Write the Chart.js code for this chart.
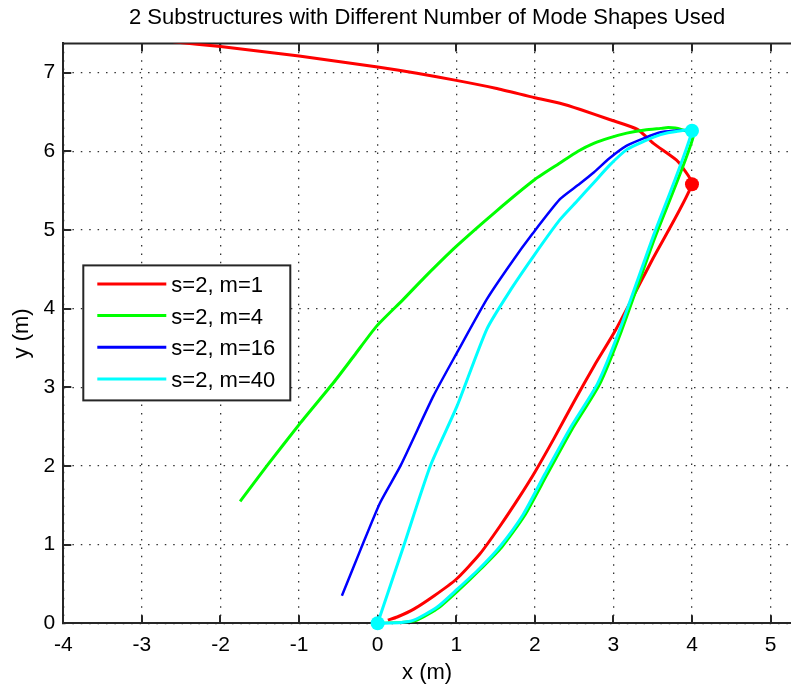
<!DOCTYPE html>
<html>
<head>
<meta charset="utf-8">
<title>2 Substructures with Different Number of Mode Shapes Used</title>
<script src="https://cdn.jsdelivr.net/npm/chart.js@4.4.1/dist/chart.umd.min.js"></script>
<style>
  html, body { margin: 0; padding: 0; background: #fff; overflow: hidden; }
  #wrap { width: 791px; height: 690px; position: relative; }
</style>
</head>
<body>
<div id="wrap"><canvas id="plot" width="791" height="690"></canvas></div>
<script>
// Tip trajectories (x, y in metres) for two substructures, by number of mode shapes m.
const X_TICKS = [-4, -3, -2, -1, 0, 1, 2, 3, 4, 5];
const Y_TICKS = [0, 1, 2, 3, 4, 5, 6, 7];
const SERIES_LABELS = ['s=2, m=1', 's=2, m=4', 's=2, m=16', 's=2, m=40'];

// m = 1
const M1_X = [0.13, 0.25, 0.46, 0.72, 1.00, 1.30, 1.56, 1.80, 2.00, 2.25, 2.50, 2.76, 3.03, 3.50, 4.00, 3.89, 3.80, 3.51, 3.30, 2.96, 2.58, 2.32, 2.00, 1.50, 1.00, 0.50, 0.00, -1.00, -2.00, -2.60];
const M1_Y = [0.04, 0.08, 0.18, 0.35, 0.56, 0.88, 1.24, 1.60, 1.92, 2.36, 2.82, 3.28, 3.73, 4.63, 5.58, 5.78, 5.89, 6.10, 6.28, 6.40, 6.53, 6.61, 6.68, 6.80, 6.90, 6.99, 7.07, 7.21, 7.33, 7.39];

// m = 4
const M4_X = [0.00, 0.30, 0.50, 0.78, 1.03, 1.32, 1.58, 1.87, 2.15, 2.47, 2.82, 3.10, 3.52, 4.02, 3.85, 3.70, 3.60, 3.40, 3.17, 2.95, 2.75, 2.55, 2.32, 2.00, 1.50, 1.00, 0.60, 0.33, -0.01, -0.30, -0.56, -0.98, -1.41, -1.75];
const M4_Y = [0.00, 0.01, 0.04, 0.20, 0.42, 0.70, 0.97, 1.37, 1.88, 2.46, 3.03, 3.71, 4.88, 6.20, 6.28, 6.30, 6.29, 6.27, 6.23, 6.17, 6.10, 6.00, 5.85, 5.64, 5.23, 4.79, 4.40, 4.12, 3.78, 3.40, 3.06, 2.55, 2.00, 1.55];

// m = 16
const M16_X = [4.00, 3.94, 3.78, 3.60, 3.40, 3.17, 2.95, 2.75, 2.55, 2.32, 1.97, 1.70, 1.39, 1.01, 0.71, 0.29, 0.03, -0.22, -0.455];
const M16_Y = [6.27, 6.27, 6.26, 6.24, 6.17, 6.07, 5.91, 5.73, 5.57, 5.39, 4.95, 4.58, 4.12, 3.44, 2.89, 2.00, 1.53, 0.93, 0.35];

// m = 40
const M40_X = [0.00, 0.30, 0.46, 0.75, 1.01, 1.30, 1.56, 1.85, 2.13, 2.45, 2.80, 3.08, 3.50, 4.00, 3.80, 3.60, 3.40, 3.17, 2.95, 2.75, 2.55, 2.32, 2.00, 1.70, 1.39, 1.01, 0.67, 0.33, 0.00];
const M40_Y = [0.00, 0.01, 0.04, 0.20, 0.43, 0.70, 0.98, 1.38, 1.90, 2.48, 3.05, 3.73, 4.90, 6.26, 6.25, 6.21, 6.13, 6.02, 5.82, 5.60, 5.38, 5.13, 4.69, 4.25, 3.74, 2.76, 2.00, 0.98, 0.00];

const FONT = '"Liberation Sans", Arial, Helvetica, sans-serif';
const INK = '#262626';
const GRID = '#333333';

function toPoints(xs, ys) {
  return xs.map((x, i) => ({ x: x, y: ys[i] }));
}
// radius per point: zero except at the marked samples
function markerRadii(n, idx, r) {
  const a = new Array(n).fill(0);
  idx.forEach(i => { a[i] = r; });
  return a;
}
function series(label, xs, ys, color, width, marks, order, clip) {
  return {
    label: label,
    data: toPoints(xs, ys),
    showLine: true,
    borderColor: color,
    backgroundColor: color,
    pointBackgroundColor: color,
    pointBorderColor: color,
    borderWidth: width,
    pointRadius: markerRadii(xs.length, marks, 7),
    pointHoverRadius: markerRadii(xs.length, marks, 7),
    pointBorderWidth: 0,
    tension: 0.2,
    order: order,
    clip: clip
  };
}

// frame: top edge plus inward tick marks, under the curves
const framePlugin = {
  id: 'frame',
  beforeDatasetsDraw(chart) {
    const { ctx, chartArea: { left, right, top, bottom }, scales: { x, y } } = chart;
    const TL = 8;
    ctx.save();
    ctx.strokeStyle = INK;
    ctx.lineWidth = 2;
    ctx.beginPath();
    ctx.moveTo(left - 1, top);
    ctx.lineTo(right, top);
    ctx.stroke();
    ctx.beginPath();
    X_TICKS.forEach(v => {
      const px = Math.round(x.getPixelForValue(v));
      ctx.moveTo(px, bottom);
      ctx.lineTo(px, bottom - TL);
      ctx.moveTo(px, top);
      ctx.lineTo(px, top + TL);
    });
    Y_TICKS.forEach(v => {
      const py = Math.round(y.getPixelForValue(v));
      ctx.moveTo(left, py);
      ctx.lineTo(left + TL, py);
    });
    ctx.stroke();
    ctx.restore();
  }
};

// boxed legend sitting inside the axes
const insetLegend = {
  id: 'insetLegend',
  afterDatasetsDraw(chart) {
    const { ctx, chartArea } = chart;
    const bx = chartArea.left + 20, by = chartArea.top + 222;
    const bw = 207, bh = 135;
    ctx.save();
    ctx.fillStyle = '#fff';
    ctx.fillRect(bx, by, bw, bh);
    ctx.strokeStyle = INK;
    ctx.lineWidth = 2;
    ctx.strokeRect(bx, by, bw, bh);
    ctx.font = '22px ' + FONT;
    ctx.textBaseline = 'middle';
    ctx.textAlign = 'left';
    chart.data.datasets.forEach((ds, i) => {
      const ly = by + 18.5 + i * 31.7;
      ctx.strokeStyle = ds.borderColor;
      ctx.lineWidth = 3;
      ctx.beginPath();
      ctx.moveTo(bx + 14, ly);
      ctx.lineTo(bx + 83, ly);
      ctx.stroke();
      ctx.fillStyle = '#000';
      ctx.fillText(ds.label, bx + 88, ly + 2);
    });
    ctx.restore();
  }
};

const tickFont = { family: FONT, size: 21 };
const titleFont = { family: FONT, size: 22 };

new Chart(document.getElementById('plot'), {
  type: 'scatter',
  data: {
    datasets: [
      series(SERIES_LABELS[0], M1_X, M1_Y, '#ff0000', 3, [14], 4, 0),
      series(SERIES_LABELS[1], M4_X, M4_Y, '#00ff00', 3, [], 3, 0),
      series(SERIES_LABELS[2], M16_X, M16_Y, '#0000ff', 2.5, [], 2, 0),
      series(SERIES_LABELS[3], M40_X, M40_Y, '#00ffff', 3, [0, 13], 1, { left: 10, top: 0, right: 10, bottom: 10 })
    ]
  },
  options: {
    responsive: false,
    devicePixelRatio: 1,
    animation: false,
    events: [],
    layout: { autoPadding: false, padding: 0 },
    plugins: {
      legend: { display: false },
      tooltip: { enabled: false },
      title: {
        display: true,
        text: '2 Substructures with Different Number of Mode Shapes Used',
        color: '#000',
        font: { family: FONT, size: 22, weight: 'normal' },
        padding: { top: 5, bottom: 12 },
        fullSize: false
      }
    },
    scales: {
      x: {
        type: 'linear',
        min: -4,
        max: 5.26,
        afterBuildTicks: s => { s.ticks = X_TICKS.map(v => ({ value: v })); },
        afterFit: s => { s.height = 66.7; s.paddingLeft = 0; s.paddingRight = 0; },
        ticks: { color: '#000', font: tickFont, padding: 9, maxRotation: 0, autoSkip: false },
        grid: { color: GRID, lineWidth: 1.3, drawTicks: false },
        border: { display: true, color: INK, width: 2, dash: [1.5, 6.9] },
        title: { display: true, text: 'x (m)', color: '#000', font: titleFont, padding: { top: 0, bottom: 4 } }
      },
      y: {
        type: 'linear',
        min: 0,
        max: 7.37,
        afterBuildTicks: s => { s.ticks = Y_TICKS.map(v => ({ value: v })); },
        afterFit: s => { s.width = 63.3; s.paddingTop = 0; s.paddingBottom = 0; },
        ticks: { color: '#000', font: tickFont, padding: 8 },
        grid: { color: GRID, lineWidth: 1.3, drawTicks: false },
        border: { display: true, color: INK, width: 2, dash: [1.5, 6.9] },
        title: { display: true, text: 'y (m)', color: '#000', font: titleFont, padding: { top: 9, bottom: 0 } }
      }
    }
  },
  plugins: [framePlugin, insetLegend]
});
</script>
</body>
</html>
